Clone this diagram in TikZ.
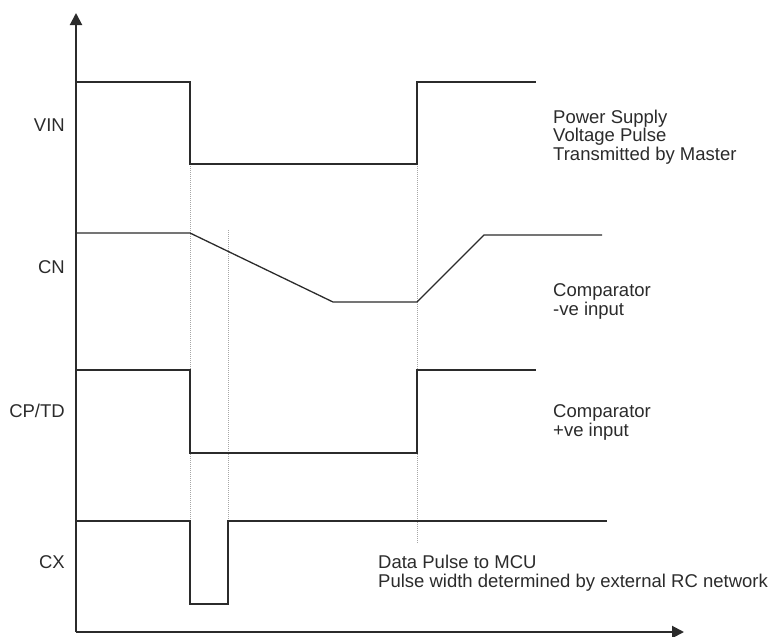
\documentclass[tikz,border=0pt]{standalone}
\usepackage{fontspec}
\setmainfont{Liberation Sans}
\usetikzlibrary{arrows.meta}
\definecolor{ink}{HTML}{2B2B2B}
\tikzset{
  axis/.style={draw=ink, line width=2pt, -{Triangle[length=12pt,width=12pt]}},
  signal/.style={draw=ink, line width=1.3pt, line join=miter},
  guide/.style={draw=gray!70, line width=0.9pt, dash pattern=on 1pt off 1pt},
  lbl/.style={inner sep=0pt, text=ink, font=\fontsize{18.5}{18.5}\selectfont},
  rlbl/.style={lbl, anchor=base west, align=left}
}
\begin{document}
\begin{tikzpicture}[x=1pt,y=-1pt]
\useasboundingbox (0,0) rectangle (774,637);
% axes
\coordinate (O) at (76,632);
\coordinate (ytop) at (76,13);
\coordinate (xend) at (684,632);
\draw[axis] (O) -- (ytop);
\draw[axis] (O) -- (xend);
% guide lines
\coordinate (g1a) at (190,164); \coordinate (g1b) at (190,521);
\coordinate (g2a) at (228,230); \coordinate (g2b) at (228,521);
\coordinate (g3a) at (417,164); \coordinate (g3b) at (417,543);
\draw[guide] (g1a) -- (g1b);
\draw[guide] (g2a) -- (g2b);
\draw[guide] (g3a) -- (g3b);
% VIN
\coordinate (v0) at (76,82);
\coordinate (v1) at (190,82);
\coordinate (v2) at (190,164);
\coordinate (v3) at (417,164);
\coordinate (v4) at (417,82);
\coordinate (v5) at (536,82);
\draw[signal] (v0) -- (v1) -- (v2) -- (v3) -- (v4) -- (v5);
% CN
\coordinate (c0) at (76,233);
\coordinate (c1) at (190,233);
\coordinate (c2) at (333,302);
\coordinate (c3) at (417,302);
\coordinate (c4) at (484,235);
\coordinate (c5) at (602,235);
\draw[signal] (c0) -- (c1) -- (c2) -- (c3) -- (c4) -- (c5);
% CP/TD
\coordinate (p0) at (76,370);
\coordinate (p1) at (190,370);
\coordinate (p2) at (190,453);
\coordinate (p3) at (417,453);
\coordinate (p4) at (417,370);
\coordinate (p5) at (536,370);
\draw[signal] (p0) -- (p1) -- (p2) -- (p3) -- (p4) -- (p5);
% CX
\coordinate (x0) at (76,521);
\coordinate (x1) at (190,521);
\coordinate (x2) at (190,604);
\coordinate (x3) at (228,604);
\coordinate (x4) at (228,521);
\coordinate (x5) at (607,521);
\draw[signal] (x0) -- (x1) -- (x2) -- (x3) -- (x4) -- (x5);
% left labels
\node[lbl, anchor=base east] (lvin) at (65,131) {VIN};
\node[lbl, anchor=base east] (lcn) at (65,273) {CN};
\node[lbl, anchor=base east] (lcp) at (65,417) {CP/TD};
\node[lbl, anchor=base east] (lcx) at (65,568) {CX};
% right labels (anchor at baseline of last line)
\node[rlbl] (tvin) at (553,160) {Power Supply\\Voltage Pulse\\Transmitted by Master};
\node[rlbl] (tcn) at (553,315) {Comparator\\-ve input};
\node[rlbl] (tcp) at (553,436) {Comparator\\+ve input};
\node[rlbl] (tcx) at (378,587) {Data Pulse to MCU\\Pulse width determined by external RC network};
\end{tikzpicture}
\end{document}
